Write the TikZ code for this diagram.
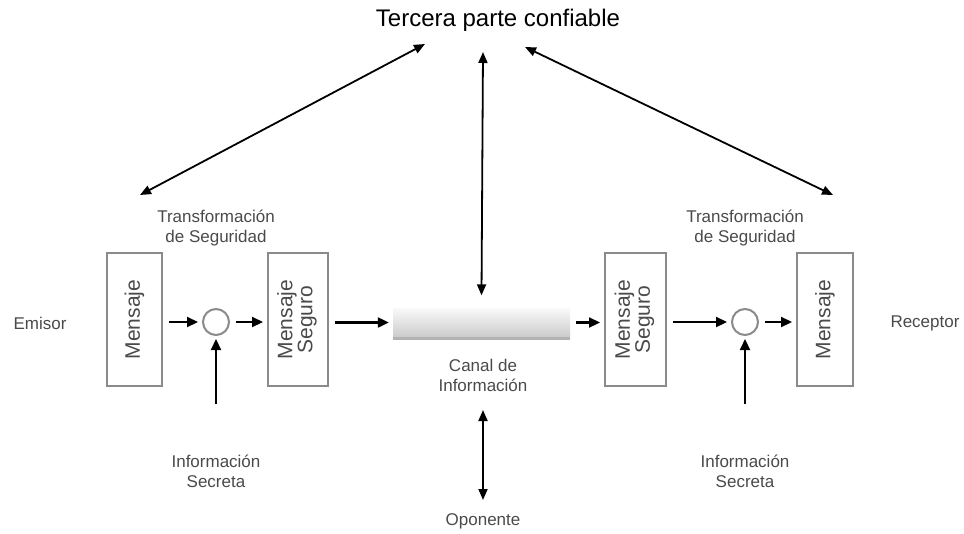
\documentclass[tikz,border=0pt]{standalone}
\usepackage{fontspec}
\setmainfont{Liberation Sans}
\usetikzlibrary{arrows.meta,shadows}
\definecolor{boxgray}{HTML}{8A8A8A}
\definecolor{txtgray}{HTML}{4A4A4A}
\begin{document}
\begin{tikzpicture}[x=1pt,y=-1pt,
  box/.style={draw=boxgray, line width=2pt, minimum height=133pt, inner sep=0pt, text=txtgray, font=\fontsize{21}{22}\selectfont, align=center},
  circ/.style={circle, draw=boxgray, line width=2pt, minimum size=26pt, inner sep=0pt},
  lbl/.style={text=txtgray, font=\fontsize{17}{20}\selectfont, align=center},
  arr/.style={-{Triangle[length=11pt,width=10pt]}, line width=2.2pt, shorten <=6pt, shorten >=4pt},
  dbl/.style={{Triangle[length=11pt,width=9pt]}-{Triangle[length=11pt,width=9pt]}, line width=1.8pt},
  upar/.style={-{Triangle[length=11pt,width=10pt]}, line width=2.2pt, shorten >=3pt}
]
\useasboundingbox (0,0) rectangle (964,533);
% title
\node[font=\fontsize{24}{26}\selectfont] (tp) at (498,20) {Tercera parte confiable};
% side labels
\node[lbl] (emisor) at (40,323) {Emisor};
\node[lbl] (receptor) at (925,323) {Receptor};
% boxes
\node[box, minimum width=55pt] (m1) at (134.5,319.5) {\rotatebox{90}{Mensaje}};
\node[circ] (c1) at (216,322) {};
\node[box, minimum width=60pt] (s1) at (298,319.5) {\rotatebox{90}{\begin{tabular}{@{}c@{}}Mensaje\\[-2pt]Seguro\end{tabular}}};
\node[draw=none, minimum width=177pt, minimum height=28pt, inner sep=0pt, top color=gray!5, bottom color=gray!40, drop shadow={shadow xshift=0pt, shadow yshift=-3pt, opacity=0.6}] (canal) at (481.5,322.5) {};
\node[box, minimum width=61pt] (s2) at (635.5,319.5) {\rotatebox{90}{\begin{tabular}{@{}c@{}}Mensaje\\[-2pt]Seguro\end{tabular}}};
\node[circ] (c2) at (745,322) {};
\node[box, minimum width=56pt] (m2) at (825,319.5) {\rotatebox{90}{Mensaje}};
% labels
\node[lbl] (t1) at (216,228) {Transformación\\de Seguridad};
\node[lbl] (t2) at (745,228) {Transformación\\de Seguridad};
\node[lbl] (cl) at (483,375) {Canal de\\Información};
\node[lbl] (i1) at (216,471) {Información\\Secreta};
\node[lbl] (i2) at (745,471) {Información\\Secreta};
\node[lbl] (op) at (483,521) {Oponente};
% coordinates
\coordinate (tpL) at (425,44);
\coordinate (tpM) at (483,52);
\coordinate (tpR) at (525,47);
\coordinate (eL) at (140,195);
\coordinate (eR) at (833,195);
\coordinate (i1top) at (216,404);
\coordinate (i2top) at (745,404);
\coordinate (opTop) at (483,410);
\coordinate (opBot) at (483,500);
% horizontal arrows
\draw[arr] (m1.east |- c1.west) -- (c1.west);
\draw[arr] (c1.east) -- (s1.west |- c1.east);
\draw[arr] (s1.east |- canal.west) -- (canal.west);
\draw[arr] (canal.east) -- (s2.west |- canal.east);
\draw[arr] (s2.east |- c2.west) -- (c2.west);
\draw[arr] (c2.east) -- (m2.west |- c2.east);
% vertical arrows
\draw[upar] (i1top) -- (c1.south);
\draw[upar] (i2top) -- (c2.south);
\draw[dbl] (tpM) -- ([yshift=13pt]canal.north);
\draw[dbl] (opTop) -- (opBot);
% diagonal arrows
\draw[dbl] (eL) -- (tpL);
\draw[dbl] (eR) -- (tpR);
\end{tikzpicture}
\end{document}
